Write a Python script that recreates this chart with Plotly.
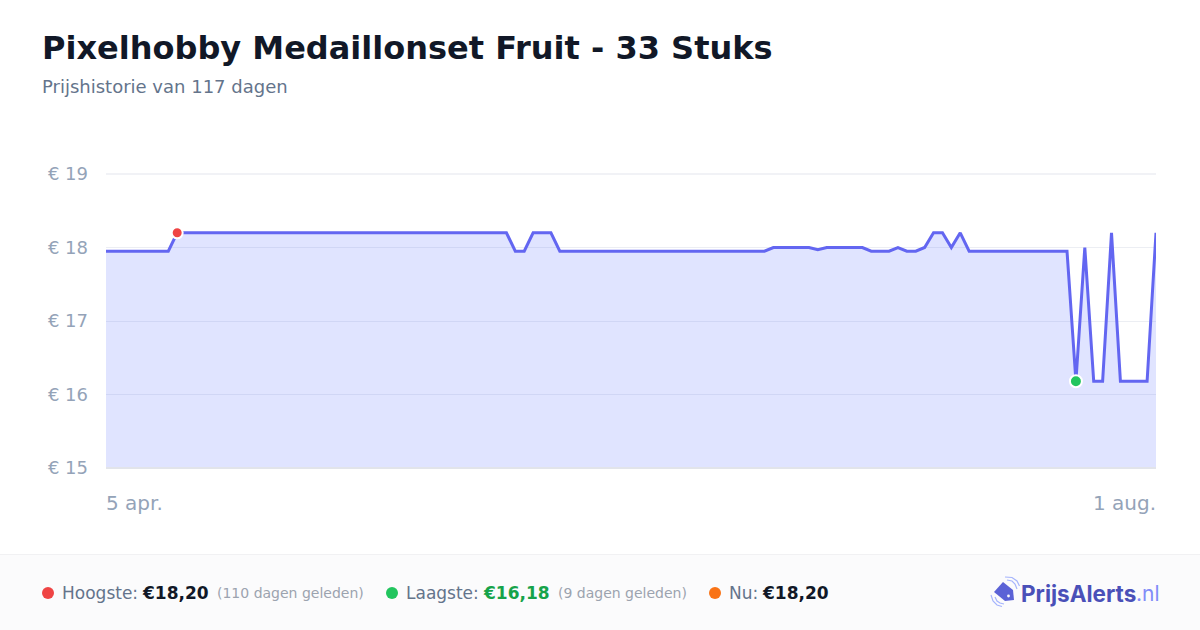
import pandas as pd
import plotly.graph_objects as go

W = 1200
H = 630

title = "Pixelhobby Medaillonset Fruit - 33 Stuks"
subtitle = "Prijshistorie van 117 dagen"

prices = (
    [17.95] * 8
    + [18.20] * 38
    + [17.95, 17.95, 18.20, 18.20, 18.20]
    + [17.95] * 24
    + [18.00] * 5
    + [17.97]
    + [18.00] * 5
    + [17.95, 17.95, 17.95, 18.00, 17.95, 17.95, 18.00, 18.20, 18.20, 18.00, 18.20]
    + [17.95] * 12
    + [16.18, 18.00, 16.18, 16.18, 18.20, 16.18, 16.18, 16.18, 16.18, 18.20]
)
dates = pd.date_range("2025-04-05", "2025-08-01", freq="D")

y_ticks = [15, 16, 17, 18, 19]
y_tick_labels = ["€ 15", "€ 16", "€ 17", "€ 18", "€ 19"]
first_label = "5 apr."
last_label = "1 aug."

high_price = max(prices)
low_price = min(prices)
high_i = prices.index(high_price)
low_i = prices.index(low_price)

LINE = "#6366f1"
DARK = "#111827"
MUTED = "#64748b"
AXIS = "#94a3b8"
GRID = "#eceef3"
FONT = "DejaVu Sans"


def px(x):
    return x / W


def py(y):
    return 1 - y / H


def text(x, y, s, size, color, bold=False, anchor="left", family=FONT):
    fig.add_annotation(
        x=px(x), y=py(y), xref="paper", yref="paper", text="<b>" + s + "</b>" if bold else s,
        showarrow=False, xanchor=anchor, yanchor="middle", borderpad=0, borderwidth=0,
        font=dict(family=family, size=size, color=color),
    )


def dot(x, y, r, color):
    fig.add_shape(type="circle", xref="paper", yref="paper", x0=px(x - r), x1=px(x + r),
                  y0=py(y + r), y1=py(y - r), fillcolor=color, line_width=0, layer="above")


def path(points, close=True):
    s = "M " + " L ".join(f"{px(a):.5f},{py(b):.5f}" for a, b in points)
    return s + " Z" if close else s


fig = go.Figure()

fig.add_trace(go.Scatter(x=dates, y=prices, mode="lines", fill="tozeroy",
                         fillcolor="rgba(100,120,255,0.2)",
                         line=dict(color=LINE, width=3), hoverinfo="skip"))
fig.add_trace(go.Scatter(x=[dates[high_i]], y=[high_price], mode="markers",
                         marker=dict(color="#ef4444", size=11, line=dict(color="white", width=2))))
fig.add_trace(go.Scatter(x=[dates[low_i]], y=[low_price], mode="markers",
                         marker=dict(color="#22c55e", size=12, line=dict(color="white", width=2))))

fig.update_layout(
    width=W, height=H, showlegend=False,
    margin=dict(l=0, r=0, t=0, b=0),
    paper_bgcolor="white", plot_bgcolor="white",
    font=dict(family=FONT),
    xaxis=dict(domain=[px(106), px(1156)], range=[dates[0], dates[-1]], showgrid=False,
               zeroline=False, showticklabels=False, ticks="", automargin=False),
    yaxis=dict(domain=[py(468), py(174)], range=[15, 19], tickvals=y_ticks, ticktext=y_tick_labels,
               gridcolor=GRID, gridwidth=1, zeroline=False, showline=False, ticks="",
               tickfont=dict(family=FONT, size=18, color=AXIS), ticklabelstandoff=17,
               automargin=False),
)

# plotly drops the grid at the range ends, so put those two back
fig.add_shape(type="line", xref="paper", yref="paper", x0=px(106), x1=px(1156), y0=py(174), y1=py(174),
              line=dict(color=GRID, width=1.5), layer="below")
fig.add_shape(type="line", xref="paper", yref="paper", x0=px(106), x1=px(1156), y0=py(468), y1=py(468),
              line=dict(color="#e2e4ea", width=2), layer="above")

# footer band
fig.add_shape(type="rect", xref="paper", yref="paper", x0=0, x1=1, y0=0, y1=py(555),
              fillcolor="#fbfbfc", line_width=0, layer="below")
fig.add_shape(type="line", xref="paper", yref="paper", x0=0, x1=1, y0=py(554.5), y1=py(554.5),
              line=dict(color="#f1f1f3", width=1), layer="below")

text(42, 48, title, 32, DARK, bold=True)
text(42, 87, subtitle, 18, MUTED)

text(106, 503, first_label, 20, AXIS)
text(1156, 503, last_label, 20, AXIS, anchor="right")

# footer stats
price_high = f"€{high_price:.2f}".replace(".", ",")
price_low = f"€{low_price:.2f}".replace(".", ",")
price_now = f"€{prices[-1]:.2f}".replace(".", ",")

dot(48, 593, 6, "#ef4444")
text(62, 593, "Hoogste:", 17, MUTED)
text(142, 593, price_high, 17, DARK, bold=True)
text(217, 593, "(110 dagen geleden)", 14, "#9ca3af")

dot(392, 593, 6, "#22c55e")
text(406, 593, "Laagste:", 17, MUTED)
text(483, 593, price_low, 17, "#16a34a", bold=True)
text(558, 593, "(9 dagen geleden)", 14, "#9ca3af")

dot(715, 593, 6, "#f97316")
text(729, 593, "Nu:", 17, MUTED)
text(762, 593, price_now, 17, DARK, bold=True)

# logo
fig.add_shape(type="path", xref="paper", yref="paper", fillcolor="#5b62d6", line_width=0,
              path=path([(1003, 582), (1013, 590), (1014, 600), (1005, 601), (994, 592)]))
dot(1008.5, 596, 1.4, "#fafafa")
for pts in ([(1007, 580), (1012, 581), (1015, 584), (1017, 589)],
            [(1005, 577), (1012, 577.5), (1017, 581), (1019.5, 586)],
            [(995, 597), (997, 601), (1000, 603), (1004, 604)],
            [(991, 595), (993, 601), (997, 605), (1002, 606.5)]):
    fig.add_shape(type="path", xref="paper", yref="paper", path=path(pts, close=False),
                  line=dict(color="#a5b4fc", width=1.2))
text(1021, 593, "PrijsAlerts", 22.5, "#4a50b8", bold=True, family="Inter")
text(1135.5, 593, ".nl", 21, "#818cf8", family="Inter")

fig.write_html("out.html", config=dict(displayModeBar=False),
               post_script="document.body.style.margin='0';document.body.style.overflow='hidden';")
